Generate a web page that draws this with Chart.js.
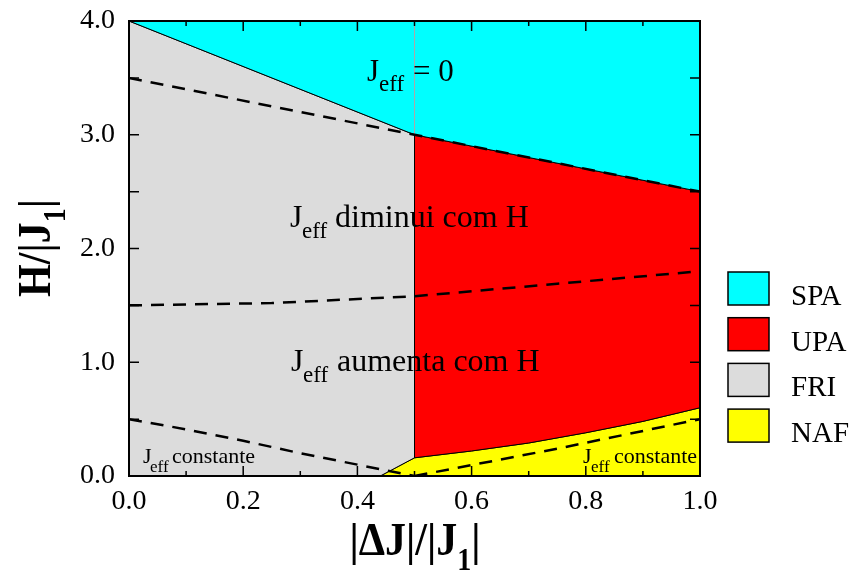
<!DOCTYPE html>
<html>
<head>
<meta charset="utf-8">
<script src="https://cdn.jsdelivr.net/npm/chart.js@4.4.0/dist/chart.umd.min.js"></script>
<style>
  html, body { margin: 0; padding: 0; background: #fff; }
  #wrap { width: 856px; height: 574px; }
</style>
</head>
<body>
<div id="wrap"><canvas id="phase" width="856" height="574"></canvas></div>
<script>
// Phase boundaries (x = |dJ|/|J1|, y = H/|J1|)
const spaFriX = [0.0, 0.5];
const spaFriY = [4.0, 3.0];
const spaUpaX = [0.5, 1.0];
const spaUpaY = [3.0, 2.5];
const upaNafX = [0.5, 0.6, 0.7, 0.8, 0.9, 1.0];
const upaNafY = [0.16, 0.22, 0.29, 0.38, 0.48, 0.60];
const nafFriX = [0.44, 0.5];
const nafFriY = [0.0, 0.16];

// Dashed crossover lines
const dashTopX = [0.0, 0.5, 1.0];
const dashTopY = [3.5, 3.0, 2.5];
const dashMidX = [0.0, 0.25, 0.5, 0.75, 1.0];
const dashMidY = [1.5, 1.52, 1.58, 1.69, 1.8];
const dashLowLX = [0.0, 0.1, 0.2, 0.3, 0.4, 0.5];
const dashLowLY = [0.5, 0.41, 0.31, 0.2, 0.1, 0.0];
const dashLowRX = [0.5, 0.75, 1.0];
const dashLowRY = [0.0, 0.24, 0.5];

// Axes
const xTicks = [0.0, 0.2, 0.4, 0.6, 0.8, 1.0];
const yTicks = [0.0, 1.0, 2.0, 3.0, 4.0];
const xMinor = [0.1, 0.3, 0.5, 0.7, 0.9];
const yMinor = [0.5, 1.5, 2.5, 3.5];

const legendLabels = ['SPA', 'UPA', 'FRI', 'NAF'];

const FONT = '"Liberation Serif", "Times New Roman", serif';
const colors = { SPA: '#00ffff', UPA: '#ff0000', FRI: '#dcdcdc', NAF: '#ffff00' };

const pts = (xs, ys) => xs.map((x, i) => ({ x: x, y: ys[i] }));

// Closed polygons for each phase
const spaPoly = [...pts(spaFriX, spaFriY), ...pts(spaUpaX, spaUpaY).slice(1), { x: 1, y: 4 }, { x: 0, y: 4 }];
const upaPoly = [...pts(spaUpaX, spaUpaY), ...pts(upaNafX, upaNafY).reverse(), { x: 0.5, y: 3 }];
const nafPoly = [...pts(nafFriX, nafFriY), ...pts(upaNafX, upaNafY).slice(1), { x: 1, y: 0 }, { x: 0.44, y: 0 }];
const friPoly = [{ x: 0, y: 0 }, ...pts(spaFriX, spaFriY), ...pts(nafFriX, nafFriY).reverse(), { x: 0, y: 0 }];

function region(label, data) {
    return {
        label: label, data: data, fill: 'shape', backgroundColor: colors[label],
        borderColor: '#000', borderWidth: 1, pointRadius: 0, tension: 0, order: 3
    };
}
function dashed(data) {
    return {
        data: data, fill: false, borderColor: '#000', borderWidth: 2.5, borderDash: [13, 9],
        pointRadius: 0, tension: 0, order: 1
    };
}

// Draw frame, inward ticks, annotations, titles and legend
const decor = {
    id: 'decor',
    afterDraw(chart) {
        const { ctx, chartArea: a, scales: { x, y } } = chart;
        ctx.save();
        ctx.strokeStyle = '#000';
        ctx.lineWidth = 1.5;
        ctx.beginPath();
        xTicks.concat(xMinor).forEach(v => {
            const px = x.getPixelForValue(v);
            const len = xMinor.includes(v) ? 5 : 10;
            ctx.moveTo(px, a.bottom); ctx.lineTo(px, a.bottom - len);
            ctx.moveTo(px, a.top); ctx.lineTo(px, a.top + len);
        });
        yTicks.concat(yMinor).forEach(v => {
            const py = y.getPixelForValue(v);
            ctx.moveTo(a.left, py); ctx.lineTo(a.left + 10, py);
            ctx.moveTo(a.right, py); ctx.lineTo(a.right - 10, py);
        });
        ctx.stroke();
        ctx.lineWidth = 2;
        ctx.strokeRect(a.left, a.top, a.right - a.left, a.bottom - a.top);

        // annotations: J_eff ...
        ctx.fillStyle = '#000';
        ctx.textAlign = 'left';
        ctx.textBaseline = 'alphabetic';
        const jeff = (jx, base, size, subSize, drop, effX, rest, restX) => {
            ctx.font = size + 'px ' + FONT;
            ctx.fillText('J', jx, base);
            ctx.fillText(rest, restX, base);
            ctx.font = subSize + 'px ' + FONT;
            ctx.fillText('eff', effX, base + drop);
        };
        jeff(367, 81, 31, 23, 10, 379, '= 0', 413);
        jeff(290, 227, 32, 23, 11, 302, 'diminui com H', 335);
        jeff(291, 371, 32, 23, 11, 303, 'aumenta com H', 337);
        jeff(143, 463, 22, 17, 9, 150, 'constante', 172);
        jeff(583, 463, 22, 17, 9, 591, 'constante', 614);

        // axis titles with subscript 1, slightly tall like the original
        const drawParts = (parts) => {
            let w = 0;
            parts.forEach(p => { ctx.font = p.f; p.w = ctx.measureText(p.t).width; w += p.w; });
            let px = -w / 2;
            parts.forEach(p => { ctx.font = p.f; ctx.fillText(p.t, px, p.dy); px += p.w; });
        };
        const big = 'bold 42px ' + FONT, sub = 'bold 28px ' + FONT;
        ctx.save();
        ctx.translate(415, 555);
        ctx.scale(1, 1.12);
        drawParts([{ t: '|\u0394J|/|J', f: big, dy: 0 }, { t: '1', f: sub, dy: 13 }, { t: '|', f: big, dy: 0 }]);
        ctx.restore();
        ctx.save();
        ctx.translate(50, 248);
        ctx.rotate(-Math.PI / 2);
        ctx.scale(1, 1.12);
        drawParts([{ t: 'H/|J', f: big, dy: 0 }, { t: '1', f: sub, dy: 13 }, { t: '|', f: big, dy: 0 }]);
        ctx.restore();

        // legend
        ctx.lineWidth = 1.5;
        ctx.font = '29px ' + FONT;
        legendLabels.forEach((lab, i) => {
            const top = 272 + i * 45.7;
            ctx.fillStyle = colors[lab];
            ctx.fillRect(728, top, 41, 33);
            ctx.strokeRect(728, top, 41, 33);
            ctx.fillStyle = '#000';
            ctx.fillText(lab, 791, top + 33);
        });
        ctx.restore();
    }
};

new Chart(document.getElementById('phase'), {
    type: 'line',
    data: {
        datasets: [
            dashed(pts(dashTopX, dashTopY)),
            dashed(pts(dashMidX, dashMidY)),
            dashed(pts(dashLowLX, dashLowLY)),
            dashed(pts(dashLowRX, dashLowRY)),
            { data: [{ x: 0.5, y: 3 }, { x: 0.5, y: 4 }], borderColor: '#a8a8a8', borderWidth: 1,
              pointRadius: 0, fill: false, order: 2 },
            region('SPA', spaPoly),
            region('UPA', upaPoly),
            region('FRI', friPoly),
            region('NAF', nafPoly)
        ]
    },
    options: {
        responsive: false,
        animation: false,
        layout: { padding: { top: 21, right: 156, left: 0, bottom: 0 } },
        plugins: { legend: { display: false }, tooltip: { enabled: false } },
        scales: {
            x: {
                type: 'linear', min: 0, max: 1,
                afterBuildTicks: s => { s.ticks = xTicks.map(v => ({ value: v })); },
                afterFit: s => { s.height = 98; s.paddingLeft = 0; s.paddingRight = 0; },
                ticks: { callback: v => v.toFixed(1), color: '#000', padding: 9, maxRotation: 0,
                         font: { family: FONT, size: 28 } },
                grid: { display: false, drawTicks: false },
                border: { display: false }
            },
            y: {
                type: 'linear', min: 0, max: 4,
                afterBuildTicks: s => { s.ticks = yTicks.map(v => ({ value: v })); },
                afterFit: s => { s.width = 129; s.paddingTop = 0; s.paddingBottom = 0; },
                ticks: { callback: v => v.toFixed(1), color: '#000', padding: 14,
                         font: { family: FONT, size: 28 } },
                grid: { display: false, drawTicks: false },
                border: { display: false }
            }
        }
    },
    plugins: [decor]
});
</script>
</body>
</html>
